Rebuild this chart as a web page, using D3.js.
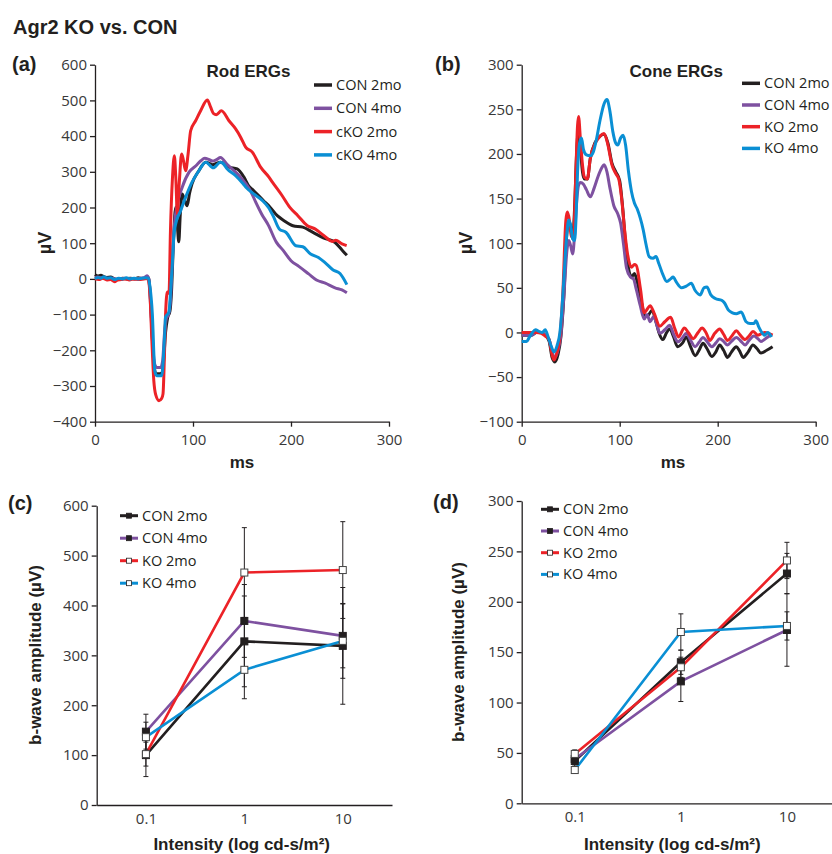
<!DOCTYPE html>
<html lang="en">
<head>
<meta charset="UTF-8">
<title>Agr2 KO vs. CON</title>
<script src="https://d3js.org/d3.v7.min.js"></script>
<style>
  body { margin: 0; background: #fff; }
  svg { display: block; }
  .tick text { font-family: 'Open Sans', sans-serif; font-size: 15px; fill: #383838; }
  .domain, .tick line { stroke: #231f20; stroke-width: 1.3; }
  .bold { font-family: 'Liberation Sans', Arial, sans-serif; font-weight: bold; fill: #231f20; }
  .legend text { font-family: 'Open Sans', sans-serif; font-size: 14.5px; fill: #231f20; }
</style>
</head>
<body>
<div id="chart"></div>
<script>
// ---------- data ----------
const rodNames = ['CON 2mo', 'CON 4mo', 'cKO 2mo', 'cKO 4mo'];
const coneNames = ['CON 2mo', 'CON 4mo', 'KO 2mo', 'KO 4mo'];
const msTicks = [0, 100, 200, 300];
const rodTicks = [-400, -300, -200, -100, 0, 100, 200, 300, 400, 500, 600];
const coneTicks = [-100, -50, 0, 50, 100, 150, 200, 250, 300];

// rod ERG traces, [ms, uV]
const rodCon2 = [[0,12],[3,8],[6,10],[9,6],[12,4],[16,5],[20,0],[24,-2],[28,2],[32,0],[36,2],[40,0],[44,3],[48,1],[52,2],[54.5,3],[56,-30],[58,-130],[60,-235],[62,-265],[65,-266],[68,-264],[70,-230],[72,-150],[74,-110],[76.5,-90],[78,-40],[80,100],[82.3,200],[84,150],[85.5,104],[87,180],[89,238],[91,225],[94,205],[96.5,240],[99,266],[106,303],[113,327],[120,320],[128,327],[137,313],[145,308],[152,285],[157,260],[162,247],[172,219],[178,203],[186,177],[193,163],[202,149],[212,145],[222,131],[233,115],[245,102],[252,81],[257,66]];
const rodCon4 = [[0,2],[3,5],[6,3],[10,4],[14,0],[18,2],[22,-2],[26,0],[30,2],[34,0],[38,1],[42,0],[46,2],[50,3],[53,9],[55,0],[57,-90],[59,-190],[61,-240],[63,-248],[67,-248],[69,-230],[71,-150],[73,-110],[75,-100],[77,-60],[79,60],[81,150],[84,210],[89,257],[96,299],[103,317],[108,331],[112,338],[116,335],[120,330],[124,334],[128,340],[135,320],[143.5,299],[150,280],[154,266],[159,245],[164,215],[170,182],[177,150],[185,103],[192,80],[200,51],[208,35],[218,14],[226,-3],[235,-12],[245,-25],[252,-31],[257,-39]];
const rodKo2 = [[0,0],[4,-2],[8,2],[12,-3],[16,-2],[20,-8],[23,-3],[27,-2],[31,0],[35,-3],[40,0],[45,-2],[50,0],[54,1],[56,-40],[58,-170],[60,-285],[62,-325],[65.3,-341],[68,-335],[69.4,-322],[71,-200],[72,-100],[73.8,-37],[75.5,-40],[77,135],[79,280],[81,345],[82.5,280],[84,182],[86,270],[88.4,350],[90,335],[92.5,303],[95,350],[97.6,415],[102.7,443],[107.8,471],[114.6,501],[118,481],[121,463],[123.8,460],[129,471],[136.7,443],[143.5,420],[148.6,397],[153.7,369],[160.5,355],[169,313],[177.5,285],[181,271],[190.5,235],[198.6,201],[207,177],[216.7,149],[224.5,140],[233.7,121],[242,105],[245.6,108],[252,98],[256.8,93]];
const rodKo4 = [[0,0],[3,4],[6,2],[9,6],[12,2],[16,3],[20,-2],[24,2],[28,0],[32,3],[36,0],[40,2],[44,0],[48,2],[52,3],[54.5,2],[56,-20],[58.5,-98],[61,-257],[63,-271],[68,-271],[69.4,-238],[71,-160],[72,-107],[75.5,-93],[77,-40],[78.9,42],[80.4,117],[82.3,154],[87.4,191],[92.5,229],[99,271],[106,303],[113,327],[120.7,311],[128,327],[130,325],[135,308],[143.5,289],[150,270],[154,257],[162,238],[171,219],[177,200],[182,175],[188,140],[195,130],[205,93],[212,90],[220,70],[228,60],[235,45],[243,25],[250,15],[257,-16]];

// cone ERG traces, [ms, uV]
const coneCon2 = [[0,-3],[10,-3],[15,0],[20,0],[24,-3],[28,-10],[31,-28],[34,-33],[37,-25],[40,-5],[43,40],[46,110],[48,125],[50,118],[52,105],[54,140],[56,200],[58,228],[60,205],[62,180],[64,172],[67,172],[70,195],[75,213],[80,220],[84,222],[88,212],[92,190],[96,180],[100,170],[103,140],[106,100],[109,72],[112,62],[115,66],[118,56],[122,35],[126,18],[129,19],[133,25],[137,12],[140,0],[144,-8],[148,0],[151,4],[155,-5],[159,-16],[164,-12],[168,-5],[172,-15],[177,-26],[181,-20],[185,-12],[189,-18],[194,-27],[198,-22],[202,-14],[206,-20],[210,-28],[214,-22],[219,-16],[222,-20],[226,-28],[231,-22],[236,-14],[240,-18],[244,-23],[250,-20],[256,-16]];
const coneCon4 = [[0,-3],[10,-3],[15,0],[20,0],[24,-3],[28,-8],[31,-22],[34,-28],[37,-20],[40,-3],[43,40],[46,90],[48,103],[50,97],[52,88],[54,110],[56,145],[58,165],[60,168],[63,166],[66,160],[70,152],[74,162],[78,175],[82,185],[84,188],[87,180],[90,162],[94,142],[98,133],[101,122],[104,98],[107,72],[111,62],[114,60],[117,48],[121,30],[125,15],[128,20],[131,12],[134.6,18],[138,8],[141,-1],[146,3],[151,8],[155,-2],[159.5,-10.5],[164,-6],[168,-1],[172,-8],[177,-16],[181,-11],[185,-5.6],[189,-10],[194,-16],[198,-12],[202,-7],[206,-10],[210,-14],[214,-10],[219,-5.6],[223,-9],[228,-14],[232,-9],[237,-4],[241,-7],[244,-10],[250,-6],[255,-2]];
const coneKo2 = [[0,0],[10,0],[15,0],[20,-1],[24,-4],[28,-8],[31,-25],[33,-31],[36,-22],[39,-5],[42,45],[45,125],[46.5,135],[48,130],[51,107],[53,110],[55,170],[57,232],[58,242],[60,215],[62,188],[64,174],[67,172],[70,195],[75,212],[80,220],[84,223],[88,210],[92,188],[96,178],[99,172],[102,150],[105,115],[108,88],[112,73],[115,76],[117,75],[121,50],[125,22],[128,26],[131,30],[135,22],[141,7],[146,12],[152,17],[156,5],[160,-5],[166,5],[170,0],[175,-7],[180,0],[184,5],[188,0],[192,-9],[197,-1],[202,4],[206,-2],[210,-9],[215,-3],[219,2],[223,-3],[228,-8],[232,-4],[236,1],[241,-3],[248,0],[252,-1],[256,-3]];
const coneKo4 = [[0,-10],[5,-10],[8,-5],[11,0],[14,3],[18,1],[21,0],[24,3],[27,-5],[30,-15],[33,-22],[36,-15],[39,0],[41,25],[43,60],[46,110],[48,126],[50,120],[52,105],[54,103],[55.5,130],[57,180],[59,212],[61,218],[63,205],[66,199],[70,198],[73,202],[76,215],[80,238],[84,256],[87,261],[90,248],[93,225],[96,212],[98,210],[101,218],[103.5,221],[106,210],[109,180],[112,158],[115,145],[118,138],[121,128],[124,115],[127,98],[130,85],[134,83],[137,85],[140,77],[144,65],[148,57],[152,60],[154.5,62],[158,56],[163,50],[168,52],[173,55],[177,47],[182,42],[186,50],[189,51],[193,42],[197.6,38],[204,36],[207,33],[211,25],[215,22],[219,21],[224,23],[229,12],[233,10],[237,10],[239,13],[242,6],[245.6,-1],[248,-3],[251,0],[255,-5]];

// b-wave amplitude vs intensity
const intensity = [0.1, 1, 10];
const rodCon2B = [100, 328, 319], rodCon2Err = [43, 91, 117];
const rodCon4B = [147, 369, 339], rodCon4Err = [35, 73, 64];
const rodKo2B = [102, 466, 471], rodKo2Err = [24, 90, 97];
const rodKo4B = [136, 271, 329], rodKo4Err = [30, 58, 75];
const coneCon2B = [42, 140, 228], coneCon2Err = [5, 12, 20];
const coneCon4B = [44, 121, 172], coneCon4Err = [5, 20, 36];
const coneKo2B = [49, 135, 241], coneKo2Err = [4, 10, 18];
const coneKo4B = [33, 170, 176], coneKo4Err = [3, 18, 14];
const bTicksRod = [0, 100, 200, 300, 400, 500, 600];
const bTicksCone = [0, 50, 100, 150, 200, 250, 300];

const colors = ['#231f20', '#7e51a0', '#ec2227', '#0a8fd4'];
const filled = [true, true, false, false];

// ---------- drawing ----------
const svg = d3.select('#chart').append('svg')
  .attr('width', 832)
  .attr('height', 854);

svg.append('text').attr('class', 'bold')
  .attr('x', 13).attr('y', 34)
  .style('font-size', '20px')
  .text('Agr2 KO vs. CON');

function label(x, y, size, txt, rotate) {
  const t = svg.append('text').attr('class', 'bold')
    .style('font-size', size + 'px')
    .attr('text-anchor', rotate ? 'middle' : 'start')
    .text(txt);
  if (rotate) t.attr('transform', `translate(${x},${y}) rotate(-90)`);
  else t.attr('x', x).attr('y', y);
  return t;
}

function legend(names, lx, ly, dy, withMarkers, lineW) {
  const lg = svg.append('g').attr('class', 'legend');
  names.forEach((n, i) => {
    const yy = ly + i * dy;
    lg.append('line')
      .attr('x1', lx).attr('x2', lx + 18)
      .attr('y1', yy).attr('y2', yy)
      .attr('stroke', colors[i]).attr('stroke-width', lineW);
    if (withMarkers) {
      lg.append('rect')
        .attr('x', lx + 6.5).attr('y', yy - 2.5)
        .attr('width', 5).attr('height', 5)
        .attr('fill', filled[i] ? '#231f20' : '#fff')
        .attr('stroke', '#231f20').attr('stroke-width', 0.8);
    }
    lg.append('text')
      .attr('x', lx + 22).attr('y', yy)
      .attr('dy', '0.35em')
      .text(n);
  });
}

function ergPanel(p) {
  const x = d3.scaleLinear().domain([0, 300]).range(p.xRange);
  const y = d3.scaleLinear().domain(p.yDomain).range([421.7, 64.7]);

  svg.append('g')
    .attr('transform', `translate(0,${y(p.yDomain[0])})`)
    .call(d3.axisBottom(x).tickValues(msTicks).tickSize(5).tickSizeOuter(0).tickPadding(8));
  svg.append('g')
    .attr('transform', `translate(${x(0)},0)`)
    .call(d3.axisLeft(y).tickValues(p.yTicks).tickSize(5).tickSizeOuter(0).tickPadding(3));

  const line = d3.line()
    .x(d => x(d[0]))
    .y(d => y(d[1]))
    .curve(d3.curveMonotoneX);

  p.traces.forEach((t, i) => {
    svg.append('path')
      .datum(t)
      .attr('d', line)
      .attr('fill', 'none')
      .attr('stroke', colors[i])
      .attr('stroke-width', 3)
      .attr('stroke-linejoin', 'round');
  });

  label(p.titleX, 77, 17, p.title).attr('text-anchor', 'middle');
  label(p.panelX, 71, 20, p.panel);
  label(p.ylabX, 243, 18, 'µV', true);
  label(p.msX, 468, 17, 'ms').attr('text-anchor', 'middle');
  legend(p.names, p.legX, p.legY, p.legDy, false, 3.5);
}

function intensityPanel(p) {
  const x = d3.scaleLog().domain([Math.pow(10, -1.5), Math.pow(10, 1.5)]).range(p.xRange);
  const y = d3.scaleLinear().domain(p.yDomain).range(p.yRange);

  svg.append('g')
    .attr('transform', `translate(0,${y(0)})`)
    .call(d3.axisBottom(x).tickValues(intensity).tickFormat(d => String(d))
      .tickSize(0).tickSizeOuter(0).tickPadding(8));
  svg.append('g')
    .attr('transform', `translate(${p.xRange[0]},0)`)
    .call(d3.axisLeft(y).tickValues(p.yTicks).tickSize(5).tickSizeOuter(0).tickPadding(3));

  const line = d3.line().x(d => x(d.i)).y(d => y(d.v));
  const pts = p.series.map(s => intensity.map((v, j) => ({ i: v, v: s[0][j], e: s[1][j] })));

  pts.forEach((s, k) => {
    svg.append('path')
      .datum(s)
      .attr('d', line)
      .attr('fill', 'none')
      .attr('stroke', colors[k])
      .attr('stroke-width', 2.6);
  });

  // error bars
  pts.forEach(s => {
    const eb = svg.append('g').attr('stroke', '#231f20').attr('stroke-width', 1);
    s.forEach(d => {
      eb.append('line').attr('x1', x(d.i)).attr('x2', x(d.i))
        .attr('y1', y(d.v - d.e)).attr('y2', y(d.v + d.e));
      [d.v - d.e, d.v + d.e].forEach(v => {
        eb.append('line').attr('x1', x(d.i) - 2.5).attr('x2', x(d.i) + 2.5)
          .attr('y1', y(v)).attr('y2', y(v));
      });
    });
  });

  // square markers
  pts.forEach((s, k) => {
    svg.selectAll(null)
      .data(s)
      .enter()
      .append('rect')
      .attr('x', d => x(d.i) - 3.5)
      .attr('y', d => y(d.v) - 3.5)
      .attr('width', 7).attr('height', 7)
      .attr('fill', filled[k] ? '#231f20' : '#fff')
      .attr('stroke', filled[k] ? '#231f20' : '#444')
      .attr('stroke-width', 1);
  });

  label(p.panelX, p.panelY, 20, p.panel);
  label(p.ylabX, p.ylabY, 17, 'b-wave amplitude (µV)', true);
  label(p.xlabX, 850, 17, 'Intensity (log cd-s/m²)').attr('text-anchor', 'middle');
  legend(coneNames, p.legX, p.legY, p.legDy, true, 3);
}

ergPanel({
  xRange: [95, 389], yDomain: [-400, 600], yTicks: rodTicks,
  traces: [rodCon2, rodCon4, rodKo2, rodKo4], names: rodNames,
  title: 'Rod ERGs', titleX: 248.5, panel: '(a)', panelX: 12,
  ylabX: 51, msX: 242, legX: 314, legY: 85, legDy: 23.3
});

ergPanel({
  xRange: [521.7, 815.7], yDomain: [-100, 300], yTicks: coneTicks,
  traces: [coneCon2, coneCon4, coneKo2, coneKo4], names: coneNames,
  title: 'Cone ERGs', titleX: 676.3, panel: '(b)', panelX: 435,
  ylabX: 472, msX: 673, legX: 742, legY: 83.3, legDy: 21.7
});

intensityPanel({
  xRange: [96.7, 392], yDomain: [0, 600], yRange: [805, 505.7], yTicks: bTicksRod,
  series: [[rodCon2B, rodCon2Err], [rodCon4B, rodCon4Err], [rodKo2B, rodKo2Err], [rodKo4B, rodKo4Err]],
  panel: '(c)', panelX: 8, panelY: 510, ylabX: 41, ylabY: 655, xlabX: 241.7,
  legX: 120, legY: 515.7, legDy: 22.5
});

intensityPanel({
  xRange: [521.7, 840], yDomain: [0, 300], yRange: [803.3, 501], yTicks: bTicksCone,
  series: [[coneCon2B, coneCon2Err], [coneCon4B, coneCon4Err], [coneKo2B, coneKo2Err], [coneKo4B, coneKo4Err]],
  panel: '(d)', panelX: 433, panelY: 509, ylabX: 464, ylabY: 652, xlabX: 672.3,
  legX: 541, legY: 509.3, legDy: 21.7
});
</script>
</body>
</html>
